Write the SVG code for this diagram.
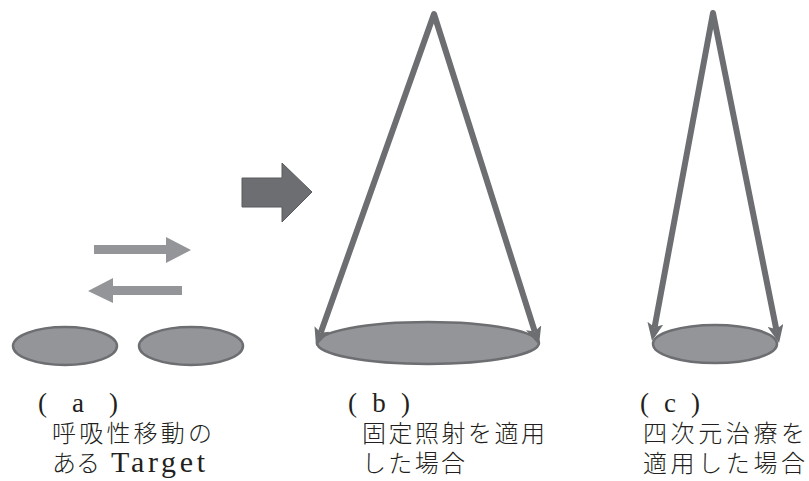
<svg xmlns="http://www.w3.org/2000/svg" width="809" height="481" viewBox="0 0 809 481">
<style>
.tgt{fill:#939598;stroke:#6d6e71;stroke-width:2.5}
.beam{fill:none;stroke:#6d6e71;stroke-width:6;stroke-linejoin:round}
.sm{fill:#939598}
.big{fill:#6d6e71;stroke:#5a5b5e;stroke-width:1}
.lbl{font-family:"Liberation Serif","Noto Sans CJK JP",serif;font-size:24px;font-weight:300;fill:#231f20}
.par{font-size:27px}
</style>
<defs>
<marker id="ah" markerUnits="userSpaceOnUse" viewBox="0 0 18 16" markerWidth="18" markerHeight="16" refX="4" refY="8" orient="auto-start-reverse">
<path d="M0,0 L18,8 L0,16 L4,8 z" fill="#6d6e71"/>
</marker>
</defs>
<rect width="809" height="481" fill="#ffffff"/>
<g id="target-a1"><ellipse class="tgt" cx="65" cy="346" rx="52" ry="19"/></g>
<g id="target-a2"><ellipse class="tgt" cx="191" cy="346" rx="52" ry="19"/></g>
<g id="target-b"><ellipse class="tgt" cx="428" cy="343" rx="111" ry="21"/></g>
<g id="target-c"><ellipse class="tgt" cx="715" cy="344" rx="62" ry="19"/></g>
<g id="motion-arrows">
<polygon class="sm" points="94,245 166,245 166,237 191,250 166,263 166,254 94,254"/>
<polygon class="sm" points="182,286 113,286 113,278 88,291 113,303 113,295 182,295"/>
</g>
<g id="block-arrow"><polygon class="big" points="242,178 282,178 282,163 312,192 282,222 282,207 242,207"/></g>
<g id="connectors">
<path class="beam" d="M320.7,332.8 L434,14 L534.8,331.6" marker-start="url(#ah)" marker-end="url(#ah)"/>
<path class="beam" d="M654.6,327.2 L713,13 L776.3,329.3" marker-start="url(#ah)" marker-end="url(#ah)"/>
</g>
<g id="labels">
<text class="lbl par" x="38" y="412" textLength="80" lengthAdjust="spacing">(a)</text>
<text class="lbl" x="52" y="442" textLength="160" lengthAdjust="spacing">呼吸性移動の</text>
<text class="lbl" x="52" y="472" textLength="48" lengthAdjust="spacing">ある</text>
<text class="lbl" x="111" y="472" style="font-size:30px" textLength="94" lengthAdjust="spacing">Target</text>
<text class="lbl par" x="348" y="412" textLength="62" lengthAdjust="spacing">(b)</text>
<text class="lbl" x="362" y="442" textLength="183" lengthAdjust="spacing">固定照射を適用</text>
<text class="lbl" x="362" y="472" textLength="103" lengthAdjust="spacing">した場合</text>
<text class="lbl par" x="640" y="412" textLength="60" lengthAdjust="spacing">(c)</text>
<text class="lbl" x="643" y="442" textLength="162" lengthAdjust="spacing">四次元治療を</text>
<text class="lbl" x="643" y="472" textLength="162" lengthAdjust="spacing">適用した場合</text>
</g>
</svg>
